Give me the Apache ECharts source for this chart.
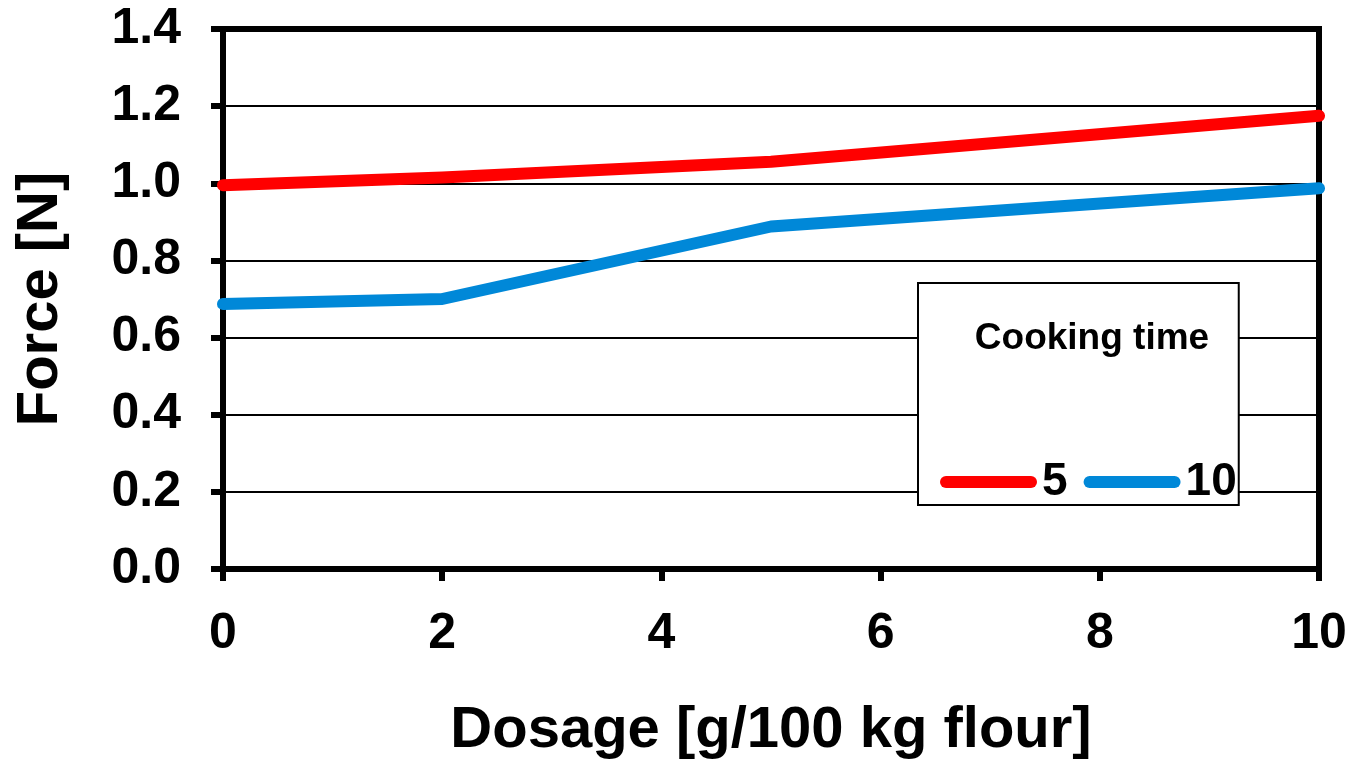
<!DOCTYPE html>
<html>
<head>
<meta charset="utf-8">
<script src="https://cdn.jsdelivr.net/npm/echarts@6/dist/echarts.min.js"></script>
<style>
html,body{margin:0;padding:0;background:#fff;}
#chart{width:1355px;height:760px;}
</style>
</head>
<body>
<div id="chart"></div>
<script>
const dosage = [0, 2, 5, 10];
const force5 = [0.995, 1.015, 1.056, 1.175];
const force10 = [0.687, 0.700, 0.888, 0.987];
const seriesNames = ['5', '10'];
const legendTitle = 'Cooking time';
const xTitle = 'Dosage [g/100 kg flour]';
const yTitle = 'Force [N]';

const FONT = '"Liberation Sans", Arial, sans-serif';
const chart = echarts.init(document.getElementById('chart'), null, {renderer: 'canvas'});
const pill = 'path://M6,0 L91,0 A6,6 0 0 1 91,12 L6,12 A6,6 0 0 1 6,0 Z';

chart.setOption({
  animation: false,
  backgroundColor: '#fff',
  grid: {left: 223, right: 36, top: 29, bottom: 191, containLabel: false, outerBoundsMode: 'none',
    show: true, borderColor: '#000', borderWidth: 6, backgroundColor: 'transparent'},
  title: {
    text: legendTitle, left: 1087, top: 315, textAlign: 'center', z: 10,
    textStyle: {fontFamily: FONT, fontWeight: 'bold', fontSize: 37, color: '#000'}
  },
  legend: {
    data: seriesNames.map((n, i) => ({name: n, icon: pill})),
    left: 918, top: 283,
    orient: 'horizontal',
    padding: [176, 2, 0, 22],
    backgroundColor: '#fff',
    borderColor: '#000', borderWidth: 2,
    itemWidth: 97, itemHeight: 12, itemGap: 16,
    textStyle: {fontFamily: FONT, fontWeight: 'bold', fontSize: 46, color: '#000', padding: [0, 0, 0, 0]},
    z: 5
  },
  xAxis: {
    type: 'value', min: 0, max: 10, interval: 2,
    name: xTitle, nameLocation: 'middle', nameGap: 133,
    nameTextStyle: {fontFamily: FONT, fontWeight: 'bold', fontSize: 58, color: '#000'},
    axisLine: {show: true, lineStyle: {color: '#000', width: 6}},
    axisTick: {show: true, length: 12, lineStyle: {color: '#000', width: 6}},
    axisLabel: {fontFamily: FONT, fontWeight: 'bold', fontSize: 50, color: '#000', margin: 40},
    splitLine: {show: false}
  },
  yAxis: {
    type: 'value', min: 0, max: 1.4, interval: 0.2,
    name: yTitle, nameLocation: 'middle', nameGap: 153,
    nameTextStyle: {fontFamily: FONT, fontWeight: 'bold', fontSize: 58, color: '#000'},
    axisLine: {show: true, lineStyle: {color: '#000', width: 6}},
    axisTick: {show: true, length: 12, lineStyle: {color: '#000', width: 6}},
    axisLabel: {fontFamily: FONT, fontWeight: 'bold', fontSize: 50, color: '#000', margin: 42,
      formatter: v => v.toFixed(1)},
    splitLine: {show: true, lineStyle: {color: '#000', width: 2}}
  },
  series: [
    {name: seriesNames[0], type: 'line', data: dosage.map((x, i) => [x, force5[i]]),
     showSymbol: false, color: '#ff0000', lineStyle: {width: 12, color: '#ff0000', cap: 'round', join: 'round'}, z: 3},
    {name: seriesNames[1], type: 'line', data: dosage.map((x, i) => [x, force10[i]]),
     showSymbol: false, color: '#0088d8', lineStyle: {width: 12, color: '#0088d8', cap: 'round', join: 'round'}, z: 3}
  ]
});
</script>
</body>
</html>
